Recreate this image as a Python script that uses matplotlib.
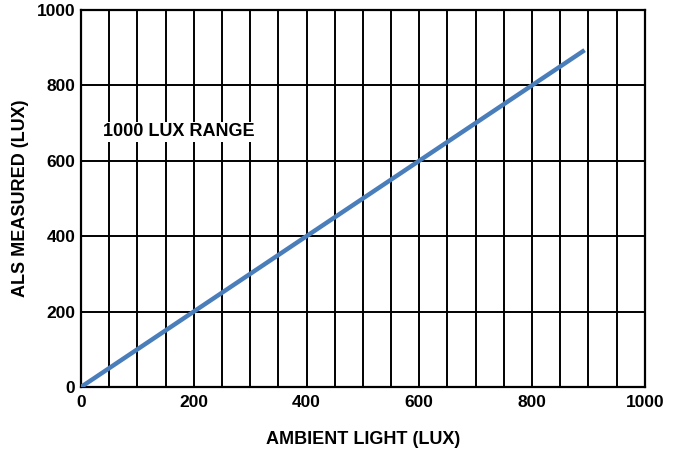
import numpy as np
import matplotlib
matplotlib.use("Agg")
import matplotlib.pyplot as plt

plt.rcParams['font.family'] = ['Liberation Sans', 'DejaVu Sans']
plt.rcParams['font.weight'] = 'bold'

# valeurs
ambient_lux = [0, 200, 400, 600, 800, 890]
als_measured = [0, 200, 400, 600, 800, 890]
tick_vals = [0, 200, 400, 600, 800, 1000]

fig = plt.figure(figsize=(6.78, 4.5), dpi=100)
ax = fig.add_axes([0.1195, 0.14, 0.8315, 0.838])

ax.set_xlim(0, 1000)
ax.set_ylim(0, 1000)
ax.set_xticks(tick_vals)
ax.set_xticks(np.arange(0, 1001, 50), minor=True)
ax.set_yticks(tick_vals)

ax.grid(True, which='both', axis='x', color='black', linewidth=1.4)
ax.grid(True, which='major', axis='y', color='black', linewidth=1.4)
ax.set_axisbelow(True)

ax.plot(ambient_lux, als_measured, color='#4a7ebb', linewidth=3.2, zorder=3)

for s in ax.spines.values():
    s.set_linewidth(1.6)
    s.set_color('black')

ax.tick_params(which='both', length=0, labelsize=12.5)
ax.tick_params(axis='x', pad=6)
ax.tick_params(axis='y', pad=4)
for lbl in ax.get_xticklabels() + ax.get_yticklabels():
    lbl.set_fontweight('bold')

ax.set_xlabel('AMBIENT LIGHT (LUX)', fontsize=13, fontweight='bold', labelpad=15)
ax.set_ylabel('ALS MEASURED (LUX)', fontsize=13, fontweight='bold', labelpad=6)

ax.text(39, 677, '1000 LUX RANGE', fontsize=13, fontweight='bold', va='center', ha='left',
        bbox=dict(facecolor='white', edgecolor='none', pad=1))

fig.savefig('out.png', dpi=100)
